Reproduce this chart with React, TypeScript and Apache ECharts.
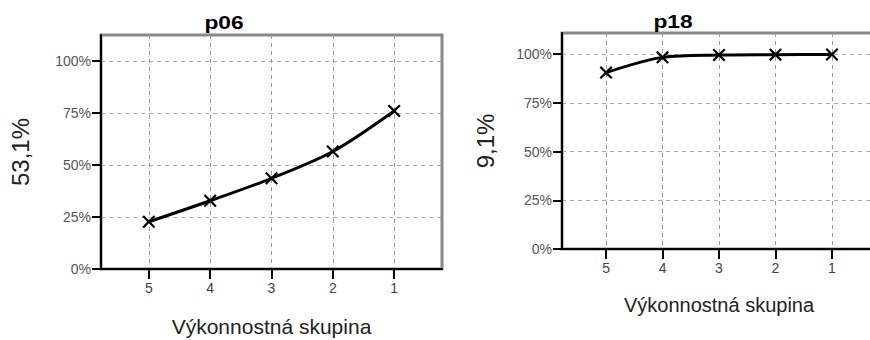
import React, { useEffect, useRef } from "react";
import * as echarts from "echarts";

const groups = [5, 4, 3, 2, 1];
const p06Values = [22.7, 32.8, 43.6, 56.5, 76.0];
const p18Values = [90.5, 98.3, 99.5, 99.7, 99.8];
const yTicks = [0, 25, 50, 75, 100];
const titles = ["p06", "p18"];
const yNames = ["53,1%", "9,1%"];
const xName = "Výkonnostná skupina";

const FONT = "Liberation Sans, Arial, sans-serif";
const XMARK =
  "path://M0,1.2 L1.2,0 L5,3.8 L8.8,0 L10,1.2 L6.2,5 L10,8.8 L8.8,10 L5,6.2 L1.2,10 L0,8.8 L3.8,5 Z";

function makeAxes(i: number, yMax: number, yGap: number, xGap: number, xNameSize: number) {
  const xAxis = {
    type: "value",
    gridIndex: i,
    inverse: true,
    min: 0.22,
    max: 5.78,
    name: xName,
    nameLocation: "middle",
    nameGap: xGap,
    nameTextStyle: { fontFamily: FONT, fontSize: xNameSize, color: "#222" },
    axisLine: { show: true, onZero: false, lineStyle: { color: "#000", width: 2 } },
    axisTick: { show: true, inside: false, length: 10, customValues: groups, lineStyle: { color: "#000", width: 2 } },
    axisLabel: {
      show: true,
      customValues: groups,
      fontFamily: FONT,
      fontSize: 14,
      color: "#444",
      margin: 12,
      formatter: (v: number) => String(Math.round(v)),
    },
    splitLine: { show: true, lineStyle: { color: "#999", type: [4, 4], width: 1 } },
  };
  const yAxis = {
    type: "value",
    gridIndex: i,
    min: 0,
    max: yMax,
    interval: 25,
    name: yNames[i],
    nameLocation: "middle",
    nameRotate: 90,
    nameGap: yGap,
    nameTextStyle: { fontFamily: FONT, fontSize: 24, color: "#222" },
    axisLine: { show: true, onZero: false, lineStyle: { color: "#000", width: 2 } },
    axisTick: { show: true, inside: false, length: 9, customValues: yTicks, lineStyle: { color: "#000", width: 2 } },
    axisLabel: {
      show: true,
      customValues: yTicks,
      fontFamily: FONT,
      fontSize: 14,
      color: "#555",
      margin: 10,
      formatter: (v: number) => Math.round(v) + "%",
    },
    splitLine: { show: true, lineStyle: { color: "#aaa", type: [4, 4], width: 1 } },
  };
  return { xAxis, yAxis };
}

export default function App() {
  const ref = useRef<HTMLDivElement>(null);
  useEffect(() => {
    if (!ref.current) return;
    const chart = echarts.init(ref.current, undefined, { renderer: "svg" });
    const a0 = makeAxes(0, 112.5, 69, 47, 21);
    const a1 = makeAxes(1, 110.8, 65, 46, 20);
    const mkSeries = (i: number, vals: number[]) => ({
      type: "line",
      xAxisIndex: i,
      yAxisIndex: i,
      data: groups.map((g, k) => [g, vals[k]]),
      smooth: 0.3,
      symbol: XMARK,
      symbolSize: 13,
      lineStyle: { color: "#000", width: 3 },
      itemStyle: { color: "#000" },
      z: 5,
    });
    chart.setOption({
      animation: false,
      backgroundColor: "#fff",
      grid: [
        { left: 101, top: 35, width: 341, height: 234, outerBoundsMode: "none", containLabel: false, show: true, borderColor: "#888", borderWidth: 3, backgroundColor: "transparent" },
        { left: 562, top: 33, width: 314, height: 216, outerBoundsMode: "none", containLabel: false, show: true, borderColor: "#888", borderWidth: 3, backgroundColor: "transparent" },
      ],
      xAxis: [a0.xAxis, a1.xAxis],
      yAxis: [a0.yAxis, a1.yAxis],
      series: [mkSeries(0, p06Values), mkSeries(1, p18Values)],
      graphic: [
        {
          type: "text",
          x: 224,
          y: 22.5,
          scaleX: 1.2,
          style: { text: titles[0], font: "bold 19px " + FONT, fill: "#000", textAlign: "center", textVerticalAlign: "middle" },
        },
        {
          type: "text",
          x: 673,
          y: 21.5,
          scaleX: 1.2,
          style: { text: titles[1], font: "bold 19px " + FONT, fill: "#000", textAlign: "center", textVerticalAlign: "middle" },
        },
      ],
    });
    return () => chart.dispose();
  }, []);
  return <div ref={ref} style={{ width: 870, height: 340, position: "absolute", left: 0, top: 0 }} />;
}
